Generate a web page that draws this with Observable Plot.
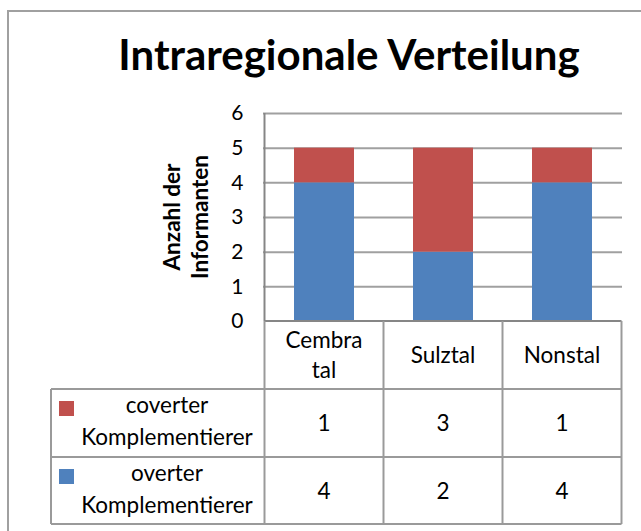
<!DOCTYPE html>
<html><head><meta charset="utf-8">
<script src="https://cdn.jsdelivr.net/npm/d3@7"></script>
<script src="https://cdn.jsdelivr.net/npm/@observablehq/plot@0.6"></script>
<style>body{margin:0;background:#fff}#chart svg{display:block}</style>
</head><body><div id="chart"></div>
<script>
const categories = ["Cembratal", "Sulztal", "Nonstal"];
const categoryLabels = [["Cembra", "tal"], ["Sulztal"], ["Nonstal"]];
const seriesNames = ["overter Komplementierer", "coverter Komplementierer"];
const legendLines = {"overter Komplementierer": ["overter", "Komplementierer"], "coverter Komplementierer": ["coverter", "Komplementierer"]};
const overt = [4, 2, 4];
const covert = [1, 3, 1];
const yTicks = [0, 1, 2, 3, 4, 5, 6];
const title = "Intraregionale Verteilung";
const yLabel = ["Anzahl der", "Informanten"];
const seriesColors = ["#4f81bd", "#c0504d"];
const tableOrder = ["coverter Komplementierer", "overter Komplementierer"];

const seriesValues = {"overter Komplementierer": overt, "coverter Komplementierer": covert};
const data = [];
categories.forEach((c, i) => {
  seriesNames.forEach(s => data.push({cat: c, series: s, value: seriesValues[s][i]}));
});

const FONT = "Lato, 'Open Sans', sans-serif";
const chart = Plot.plot({
  width: 641, height: 531,
  marginLeft: 263, marginRight: 19, marginTop: 113, marginBottom: 210,
  style: {fontFamily: FONT, fontSize: "20px", background: "#fff", color: "#000", overflow: "visible"},
  x: {domain: categories, paddingInner: 0.5, paddingOuter: 0.25, axis: null},
  y: {domain: [0, 6], axis: null},
  color: {domain: seriesNames, range: seriesColors},
  marks: [
    Plot.ruleY(yTicks.slice(1), {stroke: "#a0a0a0", strokeWidth: 2}),
    Plot.barY(data, {x: "cat", y: "value", fill: "series"}),
    Plot.axisY(yTicks, {tickSize: 0, tickPadding: 20, fontSize: 21, fill: "#000", label: null})
  ]
});
document.getElementById("chart").append(chart);

const svg = d3.select(chart);
const x = chart.scale("x");
const y = chart.scale("y");
const step = x.step, bw = x.bandwidth;
const colEdges = categories.map(c => x.apply(c) + bw / 2 - step / 2);
const right = x.apply(categories[categories.length - 1]) + bw / 2 + step / 2;
const left0 = colEdges[0];
const yBase = y.apply(0), yTop = y.apply(6);
const headerBottom = 389, row1Bottom = 457, row2Bottom = 524, tableLeft = 51;
const lineColor = "#9a9a9a";
const BODY = 22.5;

// outer chart border
svg.append("path").attr("d", `M8,545V11H660`).attr("fill", "none").attr("stroke", "#a0a0a0").attr("stroke-width", 2);

// title
svg.append("text").attr("x", 349).attr("y", 70).attr("text-anchor", "middle")
  .attr("font-family", FONT).attr("font-weight", "bold").attr("font-size", 42).attr("fill", "#000").text(title);

// y label
const yl = svg.append("text").attr("transform", `translate(186,${(yBase + yTop) / 2}) rotate(-90)`)
  .attr("text-anchor", "middle").attr("font-family", FONT).attr("font-weight", "bold").attr("font-size", BODY).attr("fill", "#000");
yLabel.forEach((t, i) => yl.append("tspan").attr("x", 0).attr("y", i * 28 - 6).text(t));

// axis left line
svg.append("line").attr("x1", left0).attr("x2", left0).attr("y1", yTop).attr("y2", yBase).attr("stroke", "#868686").attr("stroke-width", 2);

const g = svg.append("g").attr("stroke", lineColor).attr("stroke-width", 2);
g.append("line").attr("x1", left0).attr("x2", right).attr("y1", yBase).attr("y2", yBase).attr("stroke", "#868686");
g.append("line").attr("x1", tableLeft).attr("x2", right).attr("y1", headerBottom).attr("y2", headerBottom);
g.append("line").attr("x1", tableLeft).attr("x2", right).attr("y1", row1Bottom).attr("y2", row1Bottom);
g.append("line").attr("x1", tableLeft).attr("x2", right).attr("y1", row2Bottom).attr("y2", row2Bottom);
g.append("line").attr("x1", tableLeft).attr("x2", tableLeft).attr("y1", headerBottom).attr("y2", row2Bottom);
[...colEdges, right].forEach(e => g.append("line").attr("x1", e).attr("x2", e).attr("y1", yBase).attr("y2", row2Bottom));

const txt = svg.append("g").attr("font-family", FONT).attr("font-size", BODY).attr("fill", "#000").attr("text-anchor", "middle");
categories.forEach((c, i) => {
  const cx = x.apply(c) + bw / 2;
  const lines = categoryLabels[i];
  const mid = (yBase + headerBottom) / 2;
  lines.forEach((t, j) => txt.append("text").attr("x", cx).attr("y", mid + 8 + (j - (lines.length - 1) / 2) * 30).text(t));
});
const rowTops = [headerBottom, row1Bottom];
const rowBottoms = [row1Bottom, row2Bottom];
tableOrder.forEach((s, r) => {
  const top = rowTops[r], bot = rowBottoms[r], mid = (top + bot) / 2;
  const color = seriesColors[seriesNames.indexOf(s)];
  svg.append("rect").attr("x", 59).attr("y", top + 12).attr("width", 15).attr("height", 15).attr("fill", color);
  legendLines[s].forEach((t, j) => txt.append("text").attr("x", 167).attr("y", top + 24 + j * 32).text(t));
  categories.forEach((c, i) => {
    txt.append("text").attr("x", x.apply(c) + bw / 2).attr("y", mid + 8).text(seriesValues[s][i]);
  });
});
</script></body></html>
